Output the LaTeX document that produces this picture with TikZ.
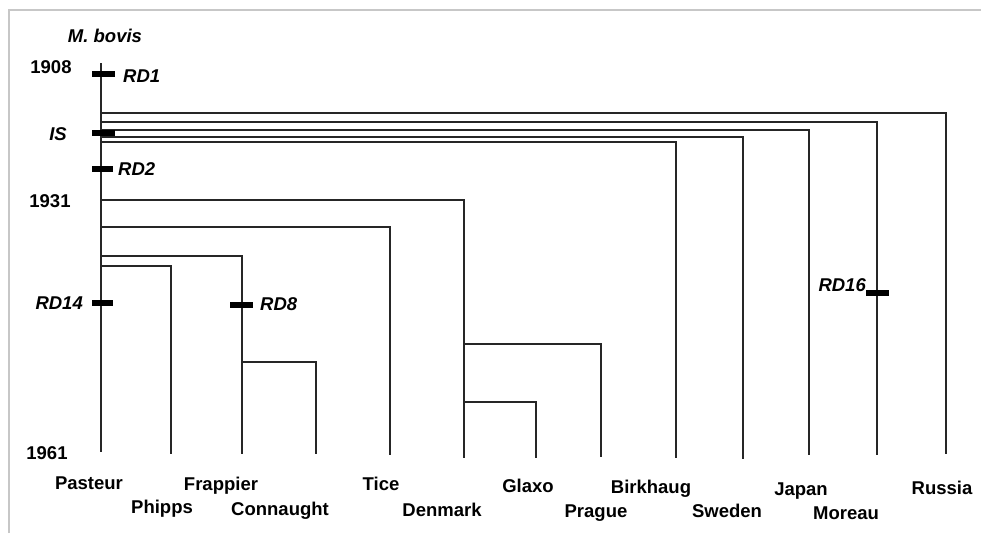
\documentclass[tikz,border=0pt]{standalone}
\usepackage{fontspec}
\setmainfont{Liberation Sans}
\begin{document}
\begin{tikzpicture}[x=1pt,y=-1pt,
  branch/.style={line width=1.4pt, line cap=rect, line join=miter, draw=black!85},
  rdbar/.style={line width=6.5pt, line cap=butt},
  framebox/.style={draw=black!22, line width=1.2pt},
  leaf/.style={font=\bfseries\fontsize{18.5}{20}\selectfont, inner sep=0pt, anchor=base},
  rdlab/.style={font=\bfseries\itshape\fontsize{18.5}{20}\selectfont, inner sep=0pt, anchor=base},
  yr/.style={font=\bfseries\fontsize{18.5}{20}\selectfont, inner sep=0pt, anchor=base}]
\useasboundingbox (0,0) rectangle (981,533);
% frame
\coordinate (fa) at (9,533);
\coordinate (fb) at (9,10);
\coordinate (fc) at (981,10);
\draw[framebox] (fa) -- (fb) -- (fc);

% titles and years
\node[rdlab] (bovis) at (105,42) {M. bovis};
\node[yr] (y1908) at (51,73) {1908};
\node[yr] (y1931) at (50,207) {1931};
\node[yr] (y1961) at (47,459) {1961};

% trunk
\coordinate (root) at (101,64);
\coordinate (pasT) at (101,451);

% branch points on trunk
\coordinate (bRus) at (101,113);
\coordinate (bMor) at (101,122);
\coordinate (bJap) at (101,130);
\coordinate (bSwe) at (101,137);
\coordinate (bBir) at (101,142);
\coordinate (bDen) at (101,200);
\coordinate (bTic) at (101,227);
\coordinate (bFra) at (101,256);
\coordinate (bPhi) at (101,266);

% corners and tips
\coordinate (cRus) at (946,113); \coordinate (tRus) at (946,453);
\coordinate (cMor) at (877,122); \coordinate (tMor) at (877,454);
\coordinate (cJap) at (809,130); \coordinate (tJap) at (809,454);
\coordinate (cSwe) at (743,137); \coordinate (tSwe) at (743,458);
\coordinate (cBir) at (676,142); \coordinate (tBir) at (676,457);
\coordinate (cDen) at (464,200); \coordinate (tDen) at (464,457);
\coordinate (bPra) at (464,344); \coordinate (cPra) at (601,344); \coordinate (tPra) at (601,456);
\coordinate (bGla) at (464,402); \coordinate (cGla) at (536,402); \coordinate (tGla) at (536,457);
\coordinate (cTic) at (390,227); \coordinate (tTic) at (390,454);
\coordinate (cFra) at (242,256); \coordinate (tFra) at (242,453);
\coordinate (bCon) at (242,362); \coordinate (cCon) at (316,362); \coordinate (tCon) at (316,453);
\coordinate (cPhi) at (171,266); \coordinate (tPhi) at (171,453);

\draw[branch] (root) -- (pasT);
\draw[branch] (bRus) -- (cRus) -- (tRus);
\draw[branch] (bMor) -- (cMor) -- (tMor);
\draw[branch] (bJap) -- (cJap) -- (tJap);
\draw[branch] (bSwe) -- (cSwe) -- (tSwe);
\draw[branch] (bBir) -- (cBir) -- (tBir);
\draw[branch] (bDen) -- (cDen) -- (tDen);
\draw[branch] (bPra) -- (cPra) -- (tPra);
\draw[branch] (bGla) -- (cGla) -- (tGla);
\draw[branch] (bTic) -- (cTic) -- (tTic);
\draw[branch] (bFra) -- (cFra) -- (tFra);
\draw[branch] (bCon) -- (cCon) -- (tCon);
\draw[branch] (bPhi) -- (cPhi) -- (tPhi);

% deletion / insertion markers
\coordinate (rd1a) at (92,74);  \coordinate (rd1b) at (115,74);
\coordinate (isa) at (92,133);  \coordinate (isb) at (115,133);
\coordinate (rd2a) at (92,169); \coordinate (rd2b) at (113,169);
\coordinate (rd14a) at (92,303); \coordinate (rd14b) at (113,303);
\coordinate (rd8a) at (230,305); \coordinate (rd8b) at (253,305);
\coordinate (rd16a) at (866,293); \coordinate (rd16b) at (889,293);
\draw[rdbar] (rd1a) -- (rd1b);
\draw[rdbar] (isa) -- (isb);
\draw[rdbar] (rd2a) -- (rd2b);
\draw[rdbar] (rd14a) -- (rd14b);
\draw[rdbar] (rd8a) -- (rd8b);
\draw[rdbar] (rd16a) -- (rd16b);

\node[rdlab, anchor=base west] (lRD1) at (123,82) {RD1};
\node[rdlab] (lIS) at (58,140) {IS};
\node[rdlab, anchor=base west] (lRD2) at (118,175) {RD2};
\node[rdlab, anchor=base east] (lRD14) at (83,309) {RD14};
\node[rdlab, anchor=base west] (lRD8) at (260,310) {RD8};
\node[rdlab, anchor=base east] (lRD16) at (866,291) {RD16};

% leaf labels
\node[leaf] (Pasteur) at (89,489) {Pasteur};
\node[leaf] (Phipps) at (162,513) {Phipps};
\node[leaf] (Frappier) at (221,490) {Frappier};
\node[leaf] (Connaught) at (280,515) {Connaught};
\node[leaf] (Tice) at (381,490) {Tice};
\node[leaf] (Denmark) at (442,516) {Denmark};
\node[leaf] (Glaxo) at (528,492) {Glaxo};
\node[leaf] (Prague) at (596,517) {Prague};
\node[leaf] (Birkhaug) at (651,493) {Birkhaug};
\node[leaf] (Sweden) at (727,517) {Sweden};
\node[leaf] (Japan) at (801,495) {Japan};
\node[leaf] (Moreau) at (846,519) {Moreau};
\node[leaf] (Russia) at (942,494) {Russia};
\end{tikzpicture}
\end{document}
